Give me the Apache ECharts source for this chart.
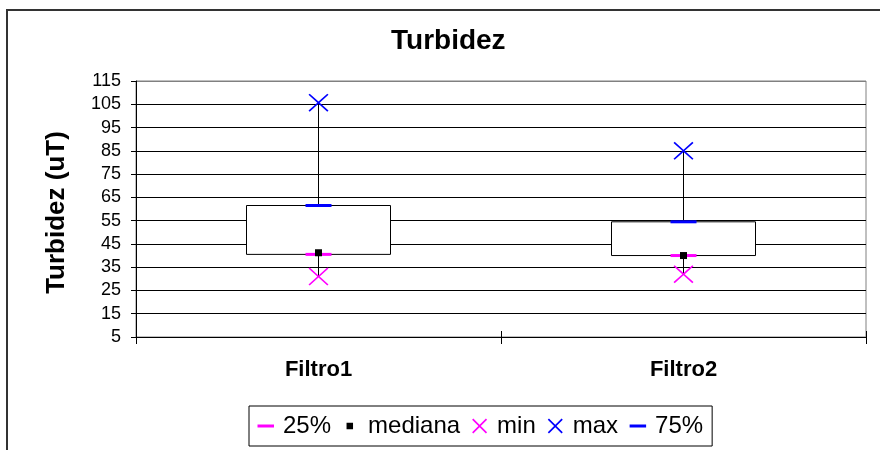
<!DOCTYPE html>
<html>
<head>
<meta charset="utf-8">
<title>Turbidez</title>
<script src="https://cdn.jsdelivr.net/npm/echarts@6/dist/echarts.min.js"></script>
<style>
  html, body { margin: 0; padding: 0; background: #fff; }
  #chart { width: 880px; height: 450px; }
</style>
</head>
<body>
<div id="chart"></div>
<script>
// Turbidity statistics per filter (uT)
const categories = ['Filtro1', 'Filtro2'];
const q1Values = [40.5, 40];      // 25%
const medianValues = [41.2, 40];  // mediana
const minValues = [31, 32];       // min
const maxValues = [105.7, 85];    // max
const q3Values = [61.5, 54.5];    // 75%

const yMin = 5, yMax = 115, yStep = 10;

const FONT = '"Liberation Sans", Arial, sans-serif';
const MAGENTA = '#FF00FF';
const BLUE = '#0000FF';

// Filled "X" outline inside a box (ox, oy, w, h), arm offset e
function crossPath(ox, oy, w, h, e) {
  const cx = ox + w / 2, cy = oy + h / 2;
  const ex = e * w / Math.max(w, h), ey = e * h / Math.max(w, h);
  const pts = [
    [ox + ex, oy], [cx, cy - ey], [ox + w - ex, oy], [ox + w, oy + ey],
    [cx + ex, cy], [ox + w, oy + h - ey], [ox + w - ex, oy + h], [cx, cy + ey],
    [ox + ex, oy + h], [ox, oy + h - ey], [cx - ex, cy], [ox, oy + ey]
  ];
  return pts.map((p, i) => (i ? 'L' : 'M') + p[0].toFixed(2) + ',' + p[1].toFixed(2)).join('') + 'Z';
}

// Plot markers
const markX = 'path://' + crossPath(0, 0, 20, 20, 1.2);

// Legend icons share a 21x16 frame; the two leading moves pin the frame size
const LW = 21, LH = 16;
const frame = 'M0,0M' + LW + ',' + LH;
const legendDash = 'path://' + frame + 'M0.5,6.5h16.5v3h-16.5Z';
const legendSquare = 'path://' + frame + 'M4.5,4.75h6.5v6.5h-6.5Z';
const legendX = 'path://' + frame + crossPath(1, 0.5, 15, 15, 1.2);

const pair = (vals) => vals.map((v, i) => [categories[i], v]);

const splitColors = [];
for (let v = yMin; v <= yMax; v += yStep) splitColors.push(v === yMax ? '#808080' : '#000');

const chart = echarts.init(document.getElementById('chart'), null, { renderer: 'canvas' });

chart.setOption({
  animation: false,
  backgroundColor: '#fff',
  textStyle: { fontFamily: FONT, color: '#000' },
  title: {
    text: 'Turbidez',
    left: 386,
    top: 22,
    padding: 5,
    textStyle: { fontFamily: FONT, fontSize: 28, fontWeight: 'bold', color: '#000' }
  },
  graphic: [{
    type: 'rect',
    silent: true,
    shape: { x: 7, y: 10, width: 1000, height: 1000 },
    style: { fill: null, stroke: '#333', lineWidth: 2 },
    z: 100
  }],
  legend: {
    left: 249,
    top: 406,
    padding: [8, 9, 8, 8],
    itemGap: 11,
    itemWidth: LW,
    itemHeight: LH,
    borderColor: '#000',
    borderWidth: 1,
    backgroundColor: '#fff',
    selectedMode: false,
    textStyle: { fontFamily: FONT, fontSize: 24, color: '#000' },
    data: [
      { name: '25%', icon: legendDash },
      { name: 'mediana', icon: legendSquare },
      { name: 'min', icon: legendX },
      { name: 'max', icon: legendX },
      { name: '75%', icon: legendDash }
    ]
  },
  grid: {
    left: 136,
    right: 14,
    top: 81,
    bottom: 113,
    show: true,
    borderColor: '#808080',
    borderWidth: 1,
    backgroundColor: 'transparent'
  },
  xAxis: [{
    type: 'category',
    data: categories,
    boundaryGap: true,
    position: 'bottom',
    axisLine: { show: true, lineStyle: { color: '#000', width: 1 } },
    axisTick: { show: true, inside: false, length: 7, lineStyle: { color: '#000' } },
    axisLabel: { fontFamily: FONT, fontSize: 22, fontWeight: 'bold', color: '#000', margin: 22 },
    splitLine: { show: false }
  }, {
    type: 'category',
    data: categories,
    boundaryGap: true,
    position: 'bottom',
    axisLine: { show: false },
    axisTick: { show: true, inside: true, length: 6, lineStyle: { color: '#000' } },
    axisLabel: { show: false },
    splitLine: { show: false }
  }],
  yAxis: {
    type: 'value',
    min: yMin,
    max: yMax,
    interval: yStep,
    name: 'Turbidez (uT)',
    nameLocation: 'middle',
    nameGap: 66,
    nameTextStyle: { fontFamily: FONT, fontSize: 26, fontWeight: 'bold', color: '#000', padding: [0, 7, 0, 0] },
    axisLine: { show: true, lineStyle: { color: '#000', width: 1 } },
    axisTick: { show: true, inside: false, length: 5, lineStyle: { color: '#000' } },
    axisLabel: { fontFamily: FONT, fontSize: 18, color: '#000', margin: 15 },
    splitLine: { show: true, lineStyle: { color: splitColors, width: 1 } }
  },
  series: [
    {
      name: 'box',
      type: 'candlestick',
      barWidth: 144,
      barMaxWidth: 300,
      silent: true,
      data: categories.map((c, i) => [q1Values[i], q3Values[i], minValues[i], maxValues[i]]),
      itemStyle: {
        color: '#fff', color0: '#fff',
        borderColor: '#000', borderColor0: '#000', borderColorDoji: '#000',
        borderWidth: 1
      }
    },
    {
      name: '25%', type: 'scatter', silent: true,
      symbol: 'rect', symbolSize: [26, 3],
      itemStyle: { color: MAGENTA, borderWidth: 0, opacity: 1 },
      data: pair(q1Values)
    },
    {
      name: 'mediana', type: 'scatter', silent: true,
      symbol: 'rect', symbolSize: [7, 7],
      itemStyle: { color: '#000', borderWidth: 0, opacity: 1 },
      data: pair(medianValues)
    },
    {
      name: 'min', type: 'scatter', silent: true,
      symbol: markX, symbolSize: [20, 18],
      itemStyle: { color: MAGENTA, borderWidth: 0, opacity: 1 },
      data: pair(minValues)
    },
    {
      name: 'max', type: 'scatter', silent: true,
      symbol: markX, symbolSize: [20, 18],
      itemStyle: { color: BLUE, borderWidth: 0, opacity: 1 },
      data: pair(maxValues)
    },
    {
      name: '75%', type: 'scatter', silent: true,
      symbol: 'rect', symbolSize: [26, 3],
      itemStyle: { color: BLUE, borderWidth: 0, opacity: 1 },
      data: pair(q3Values)
    }
  ]
});
</script>
</body>
</html>
